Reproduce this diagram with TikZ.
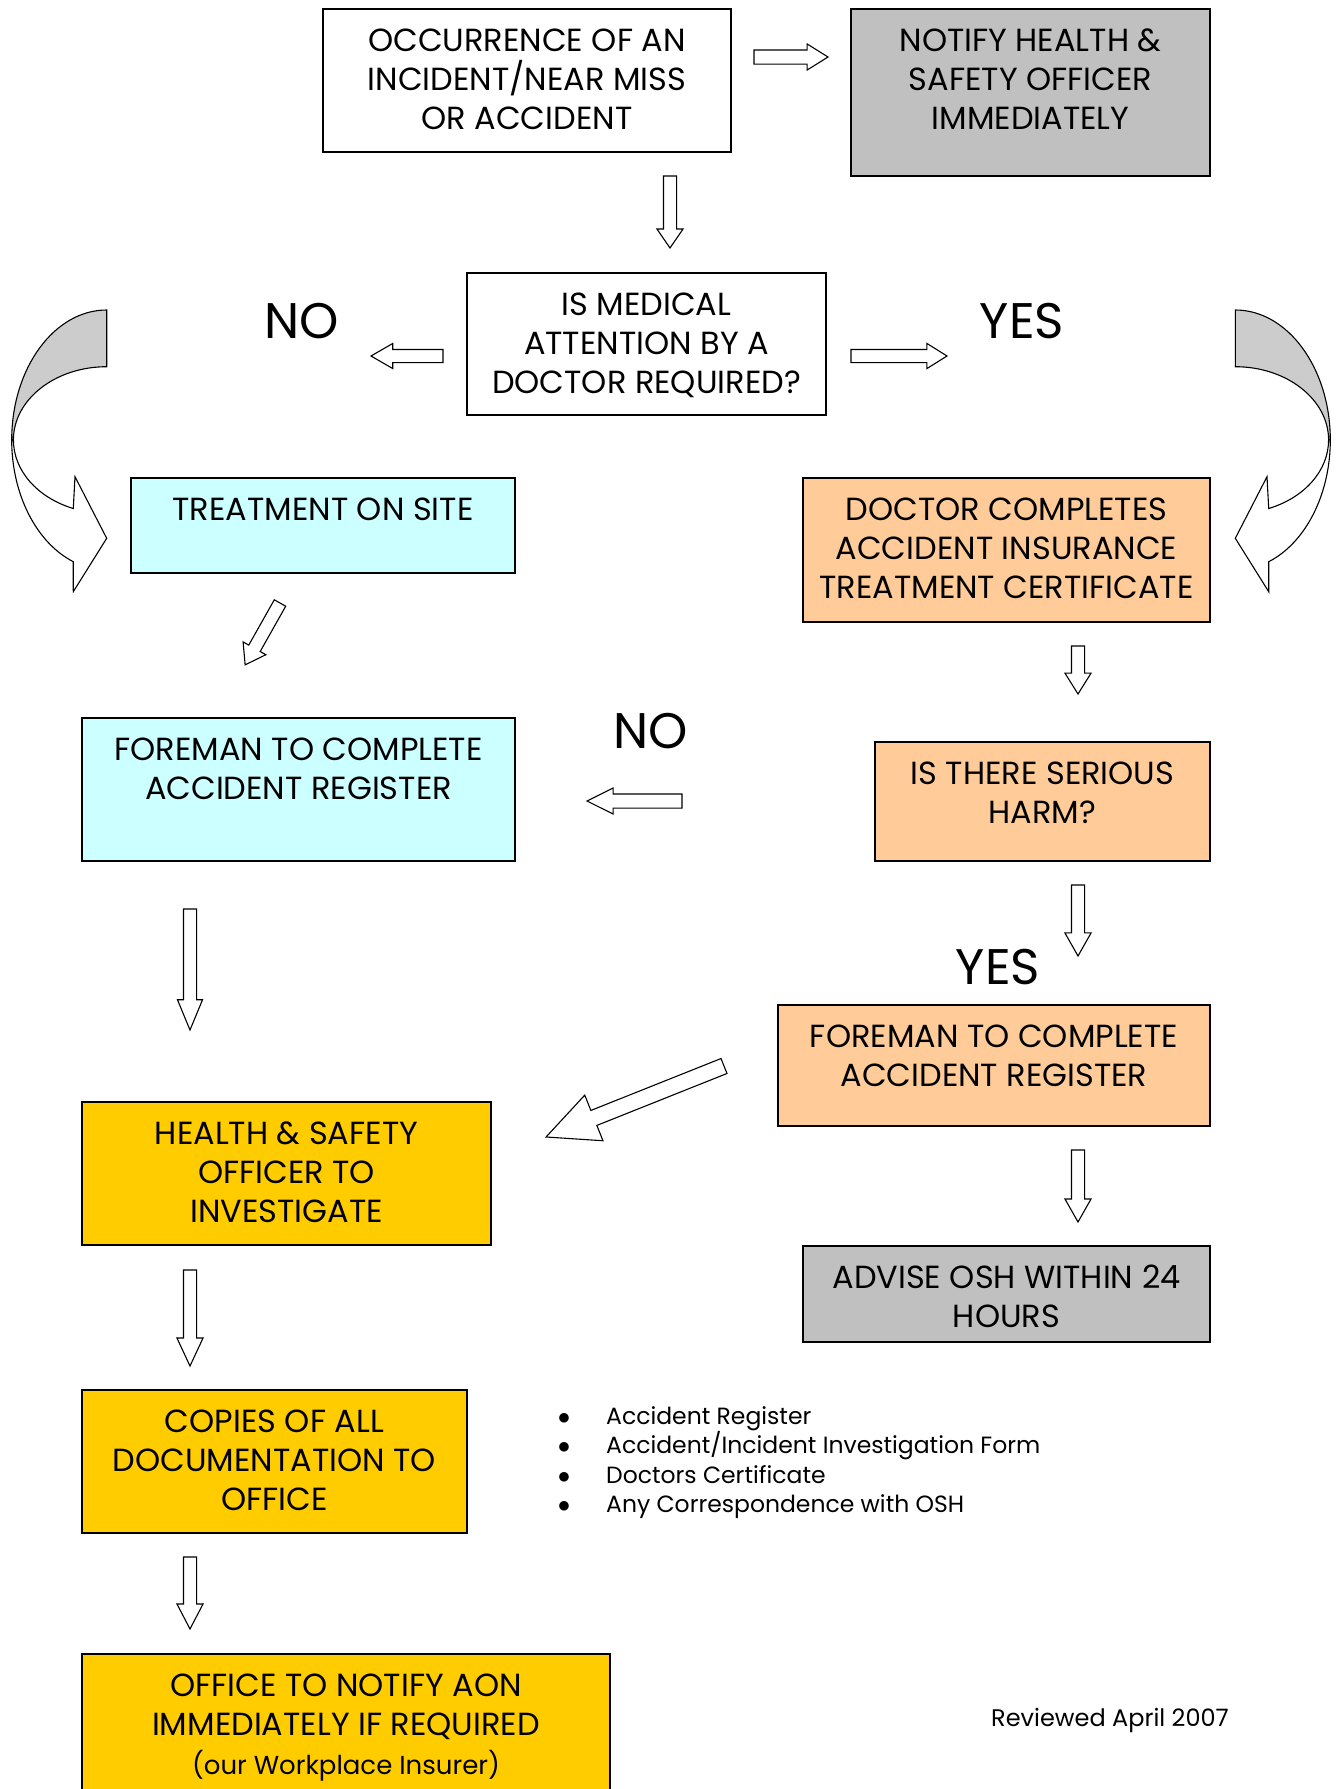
\documentclass[tikz,border=0pt]{standalone}
\usepackage{fontspec}
\setmainfont{Poppins}
\usetikzlibrary{shapes.arrows}
\definecolor{boxgray}{HTML}{C0C0C0}
\definecolor{bandgray}{HTML}{CCCCCC}
\definecolor{cyanbox}{HTML}{CCFFFF}
\definecolor{peachbox}{HTML}{FFCC99}
\definecolor{yellowbox}{HTML}{FFCC00}
\newcommand\boxfont{\fontsize{32}{39}\selectfont}
\newcommand\fst{\rule{0pt}{31pt}}
\newcommand\flowbox[7]{%
  \node[boxsty, fill=#6, minimum width={#4-#2}, minimum height={#5-#3}, anchor=north west] (#1) at (#2,#3) {};
  \node[txtsty, anchor=north] (#1t) at ([yshift=-11.5pt]#1.north) {\fst #7};}
\newcommand\curvedarrow{%
  \filldraw[fill=bandgray, line width=1.1pt] (106.7,310) arc[start angle=270, end angle=180, x radius=95, y radius=130]
    -- (13.4,440) arc[start angle=180, end angle=270, x radius=93.3, y radius=73.3] -- cycle;
  \filldraw[fill=white, line width=1.1pt, line join=miter] (11.7,440) arc[start angle=180, end angle=110.6, x radius=95, y radius=130]
    -- (73.3,591.7) -- (106.7,538.3) -- (75,476.7) -- (73.3,508.5)
    arc[start angle=111, end angle=180, x radius=93.3, y radius=73.3] -- cycle;}
\begin{document}
\begin{tikzpicture}[x=1pt,y=-1pt,
  boxsty/.style={draw=black, line width=1.3pt, inner sep=0pt, outer sep=0pt},
  txtsty/.style={align=center, inner sep=0pt, font=\boxfont},
  lbl/.style={inner sep=0pt, font=\fontsize{50}{60}\selectfont},
  barrow/.style n args={4}{single arrow, draw=black, fill=white, line width=1.1pt, inner xsep=0pt, outer sep=0pt,
     minimum width=0pt, minimum height=#1, inner ysep=#2/2, single arrow head extend=#3, single arrow tip angle=#4, anchor=tail},
  smalltxt/.style={inner sep=0pt, font=\fontsize{23.5}{30}\selectfont}]
\clip (0,0) rectangle (1337,1789);
\fill[white] (0,0) rectangle (1337,1789);

% boxes
\flowbox{occ}{323}{9}{731}{152}{white}{OCCURRENCE OF AN\\INCIDENT/NEAR MISS\\OR ACCIDENT}
\flowbox{notify}{851}{9}{1210}{176}{boxgray}{NOTIFY HEALTH \&\\SAFETY OFFICER\\IMMEDIATELY}
\flowbox{medical}{467}{273}{826}{415}{white}{IS MEDICAL\\ATTENTION BY A\\DOCTOR REQUIRED?}
\flowbox{treat}{131}{478}{515}{573}{cyanbox}{TREATMENT ON SITE}
\flowbox{doctor}{803}{478}{1210}{622}{peachbox}{DOCTOR COMPLETES\\ACCIDENT INSURANCE\\TREATMENT CERTIFICATE}
\flowbox{foremanL}{82}{718}{515}{861}{cyanbox}{FOREMAN TO COMPLETE\\ACCIDENT REGISTER}
\flowbox{harm}{875}{742}{1210}{861}{peachbox}{IS THERE SERIOUS\\HARM?}
\flowbox{foremanR}{778}{1005}{1210}{1126}{peachbox}{FOREMAN TO COMPLETE\\ACCIDENT REGISTER}
\flowbox{hs}{82}{1102}{491}{1245}{yellowbox}{HEALTH \& SAFETY\\OFFICER TO\\INVESTIGATE}
\flowbox{advise}{803}{1246}{1210}{1342}{boxgray}{ADVISE OSH WITHIN 24\\HOURS}
\flowbox{copies}{82}{1390}{467}{1533}{yellowbox}{COPIES OF ALL\\DOCUMENTATION TO\\OFFICE}
\flowbox{office}{82}{1654}{610}{1800}{yellowbox}{OFFICE TO NOTIFY AON\\IMMEDIATELY IF REQUIRED\\{\fontsize{26}{35}\selectfont (our Workplace Insurer)}}

% labels
\node[lbl] (no1) at (302,321) {NO};
\node[lbl] (yes1) at (1022,321) {YES};
\node[lbl] (no2) at (651,731) {NO};
\node[lbl] (yes2) at (998,967) {YES};

% block arrows (placed by their tail)
\node[barrow={74}{13}{6}{64}] (a1) at (754,57) {};
\node[barrow={72}{12}{6.5}{69}, rotate=-90] (a2) at (670,176) {};
\node[barrow={72}{12}{6}{60}, rotate=180] (a3) at (443,356) {};
\node[barrow={96}{12}{6}{64}] (a4) at (851,356) {};
\node[barrow={71}{12}{6.5}{69}, rotate=240.6] (a5) at (280,603) {};
\node[barrow={48}{12}{6.5}{64}, rotate=-90] (a6) at (1078,646) {};
\node[barrow={95}{13}{6}{53}, rotate=180] (a7) at (682,801) {};
\node[barrow={71}{12}{6.5}{59}, rotate=-90] (a8) at (1078,885) {};
\node[barrow={121}{12}{6}{45}, rotate=-90] (a9) at (190,909) {};
\node[barrow={191.6}{15}{16.5}{51}, rotate=201.75] (a10) at (724,1066) {};
\node[barrow={72}{12}{6.5}{59}, rotate=-90] (a11) at (1078,1150) {};
\node[barrow={96}{12}{6.5}{50}, rotate=-90] (a12) at (190,1270) {};
\node[barrow={72}{12}{6.5}{55}, rotate=-90] (a13) at (190,1557) {};

% curved arrows
\begin{scope}
\curvedarrow
\end{scope}
\begin{scope}[shift={(1342,0)}, xscale=-1]
\curvedarrow
\end{scope}

% bullet list
\node[smalltxt, anchor=base] (d1) at (564,1424) {$\bullet$};
\node[smalltxt, anchor=base] (d2) at (564,1453.5) {$\bullet$};
\node[smalltxt, anchor=base] (d3) at (564,1483) {$\bullet$};
\node[smalltxt, anchor=base] (d4) at (564,1512.5) {$\bullet$};
\node[smalltxt, anchor=base west] (b1) at (606,1424) {Accident Register};
\node[smalltxt, anchor=base west] (b2) at (606,1453.5) {Accident/Incident Investigation Form};
\node[smalltxt, anchor=base west] (b3) at (606,1483) {Doctors Certificate};
\node[smalltxt, anchor=base west] (b4) at (606,1512.5) {Any Correspondence with OSH};

\node[smalltxt, anchor=base, font=\fontsize{24}{30}\selectfont] (rev) at (1110,1726) {Reviewed April 2007};
\end{tikzpicture}
\end{document}
